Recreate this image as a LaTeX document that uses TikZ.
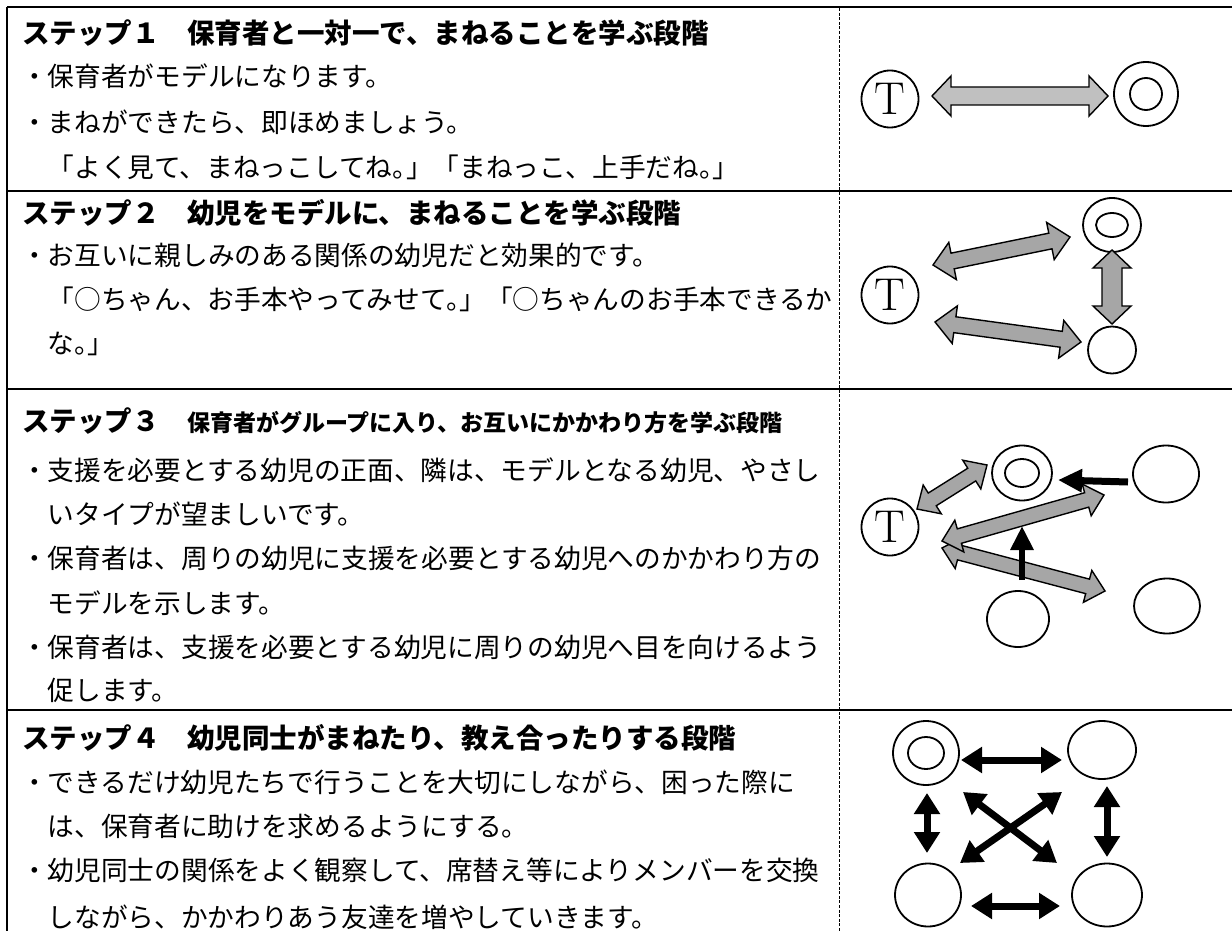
\documentclass[tikz,border=0pt]{standalone}
\usepackage{fontspec}
\newfontfamily\jp{Noto Sans CJK JP}
\usetikzlibrary{shapes.geometric,arrows.meta,calc}
\definecolor{grayA}{RGB}{192,192,192}
\definecolor{grayB}{RGB}{166,166,166}
% block arrow: [style]{from}{to}{shaft half width}{head half width}{head length}
\newcommand\blockarr[6][]{%
  \draw[#1] let \p1=(#2), \p2=(#3), \n1={atan2(\y2-\y1,\x2-\x1)} in
    (\p1) -- ($(\p1)+(\n1:#6)+(\n1+90:#5)$) -- ($(\p1)+(\n1:#6)+(\n1+90:#4)$)
    -- ($(\p2)+(\n1+180:#6)+(\n1+90:#4)$) -- ($(\p2)+(\n1+180:#6)+(\n1+90:#5)$)
    -- (\p2) -- ($(\p2)+(\n1+180:#6)+(\n1-90:#5)$) -- ($(\p2)+(\n1+180:#6)+(\n1-90:#4)$)
    -- ($(\p1)+(\n1:#6)+(\n1-90:#4)$) -- ($(\p1)+(\n1:#6)+(\n1-90:#5)$) -- cycle;}
\tikzset{
  rule/.style={line width=2.2pt},
  colsep/.style={line width=0.9pt, dash pattern=on 3pt off 1.6pt},
  titletext/.style={anchor=base west, inner sep=0pt, font=\jp\bfseries\fontsize{27.5}{30}\selectfont},
  bodytext/.style={anchor=base west, inner sep=0pt, font=\jp\fontsize{26.7}{30}\selectfont},
  person/.style={draw, ellipse, line width=1.8pt, inner sep=0pt},
  teacher/.style={draw, circle, line width=1.8pt, inner sep=0pt, minimum size=57pt, font=\fontsize{46}{46}\selectfont},
  grayarrA/.style={draw, fill=grayA, line width=1.4pt, line join=miter},
  grayarrB/.style={draw, fill=grayB, line width=1.4pt, line join=miter},
  blackone/.style={line width=7pt, -{Triangle[length=24pt,width=22pt]}},
  blackboth/.style={line width=7pt, {Triangle[length=21pt,width=25pt]}-{Triangle[length=21pt,width=25pt]}}
}
\begin{document}
\begin{tikzpicture}[x=1pt,y=-1pt]
\fill[white] (0,0) rectangle (1232,931);
\useasboundingbox (0,0) rectangle (1232,931);
% ---------- table rules ----------
\draw[rule] (7,7) -- (1240,7);
\draw[rule] (7,7) -- (7,940);
\draw[rule] (7,191) -- (1240,191);
\draw[rule] (7,389) -- (1240,389);
\draw[rule] (7,710) -- (1240,710);
\draw[colsep] (839,8) -- (839,940);
% ---------- row 1 text ----------
\node[titletext] (t1) at (22,43.5) {ステップ１　保育者と一対一で、まねることを学ぶ段階};
\node[bodytext] (r1a) at (21,87) {・保育者がモデルになります。};
\node[bodytext] (r1b) at (21,133) {・まねができたら、即ほめましょう。};
\node[bodytext] (r1c) at (47.5,178) {「よく見て、まねっこしてね。\kern-0.5em」「まねっこ、上手だね。\kern-0.5em」};
% ---------- row 2 text ----------
\node[titletext] (t2) at (22,223.5) {ステップ２　幼児をモデルに、まねることを学ぶ段階};
\node[bodytext] (r2a) at (21,265) {・お互いに親しみのある関係の幼児だと効果的です。};
\node[bodytext] (r2b) at (47.5,309) {「○ちゃん、お手本やってみせて。\kern-0.5em」「○ちゃんのお手本できるか};
\node[bodytext] (r2c) at (47.5,353) {な。\kern-0.5em」};
% ---------- row 3 text ----------
\node[titletext] (t3) at (22,431.5) {ステップ３　{\fontsize{23}{26}\selectfont 保育者がグループに入り、お互いにかかわり方を学ぶ段階}};
\node[bodytext] (r3a) at (21,480) {・支援を必要とする幼児の正面、隣は、モデルとなる幼児、やさし};
\node[bodytext] (r3b) at (47.5,524) {いタイプが望ましいです。};
\node[bodytext] (r3c) at (21,568) {・保育者は、周りの幼児に支援を必要とする幼児へのかかわり方の};
\node[bodytext] (r3d) at (47.5,613) {モデルを示します。};
\node[bodytext] (r3e) at (21,657) {・保育者は、支援を必要とする幼児に周りの幼児へ目を向けるよう};
\node[bodytext] (r3f) at (47.5,700) {促します。};
% ---------- row 4 text ----------
\node[titletext] (t4) at (22,748.5) {ステップ４　幼児同士がまねたり、教え合ったりする段階};
\node[bodytext] (r4a) at (21,792) {・できるだけ幼児たちで行うことを大切にしながら、困った際に};
\node[bodytext] (r4b) at (47.5,836) {は、保育者に助けを求めるようにする。};
\node[bodytext] (r4c) at (21,880) {・幼児同士の関係をよく観察して、席替え等によりメンバーを交換};
\node[bodytext] (r4d) at (47.5,927) {しながら、かかわりあう友達を増やしていきます。};
% ---------- step 1 diagram ----------
\node[teacher] (T1) at (890,99) {T};
\node[person, minimum width=64pt, minimum height=64pt] (M1) at (1146,94) {};
\node[person, minimum width=32pt, minimum height=32pt] (M1i) at (1146,94) {};
\coordinate (a1s) at (932,96);
\coordinate (a1e) at (1108,96);
\blockarr[grayarrA]{a1s}{a1e}{9pt}{20pt}{19pt}
% ---------- step 2 diagram ----------
\node[teacher] (T2) at (890,295) {T};
\node[person, minimum width=58pt, minimum height=54pt] (M2) at (1112,225) {};
\node[person, minimum width=32pt, minimum height=24pt] (M2i) at (1112,225) {};
\node[person, minimum width=48pt, minimum height=47pt] (C2) at (1112,350) {};
\coordinate (b1s) at (933,265);
\coordinate (b1e) at (1070,237);
\coordinate (b2s) at (935,322);
\coordinate (b2e) at (1081,342);
\coordinate (b3s) at (1112,250);
\coordinate (b3e) at (1112,324);
\blockarr[grayarrB]{b1s}{b1e}{8pt}{19pt}{20pt}
\blockarr[grayarrB]{b2s}{b2e}{8pt}{19pt}{20pt}
\blockarr[grayarrB]{b3s}{b3e}{10pt}{19pt}{18pt}
% ---------- step 3 diagram ----------
\node[teacher] (T3) at (890,527) {T};
\node[person, minimum width=60pt, minimum height=55pt] (M3) at (1022,473) {};
\node[person, minimum width=34pt, minimum height=28pt] (M3i) at (1022,473) {};
\node[person, minimum width=66pt, minimum height=57pt] (C3a) at (1166,474) {};
\node[person, minimum width=62pt, minimum height=56pt] (C3b) at (1018,619) {};
\node[person, minimum width=66pt, minimum height=55pt] (C3c) at (1167,606) {};
\coordinate (c1s) at (917,509);
\coordinate (c1e) at (987,465);
\coordinate (c2s) at (942,541);
\coordinate (c2e) at (1104,495);
\coordinate (c3s) at (942,548);
\coordinate (c3e) at (1105,591);
\blockarr[grayarrB]{c1s}{c1e}{7.5pt}{17pt}{18pt}
\blockarr[grayarrB]{c3s}{c3e}{7.5pt}{16.5pt}{18pt}
\blockarr[grayarrB]{c2s}{c2e}{7.5pt}{16.5pt}{18pt}
\coordinate (c4s) at (1128,482);
\coordinate (c4e) at (1058,480);
\coordinate (c5s) at (1022,580);
\coordinate (c5e) at (1022,526);
\draw[blackone] (c4s) -- (c4e);
\draw[blackone, line width=6pt] (c5s) -- (c5e);
% ---------- step 4 diagram ----------
\node[person, minimum width=66pt, minimum height=64pt] (M4) at (926,753) {};
\node[person, minimum width=36pt, minimum height=32pt] (M4i) at (926,753) {};
\node[person, minimum width=68pt, minimum height=58pt] (C4a) at (1102,750) {};
\node[person, minimum width=66pt, minimum height=63pt] (C4b) at (928,895) {};
\node[person, minimum width=70pt, minimum height=63pt] (C4c) at (1107,895) {};
\coordinate (d1s) at (961,760);
\coordinate (d1e) at (1062,760);
\coordinate (d2s) at (971,906);
\coordinate (d2e) at (1060,906);
\coordinate (d3s) at (927,793);
\coordinate (d3e) at (927,853);
\coordinate (d4s) at (1107,786);
\coordinate (d4e) at (1107,857);
\coordinate (d5s) at (963,792);
\coordinate (d5e) at (1057,863);
\coordinate (d6s) at (1062,792);
\coordinate (d6e) at (960,863);
\draw[blackboth] (d1s) -- (d1e);
\draw[blackboth] (d2s) -- (d2e);
\draw[blackboth] (d3s) -- (d3e);
\draw[blackboth] (d4s) -- (d4e);
\draw[blackboth] (d5s) -- (d5e);
\draw[blackboth] (d6s) -- (d6e);
\end{tikzpicture}
\end{document}
